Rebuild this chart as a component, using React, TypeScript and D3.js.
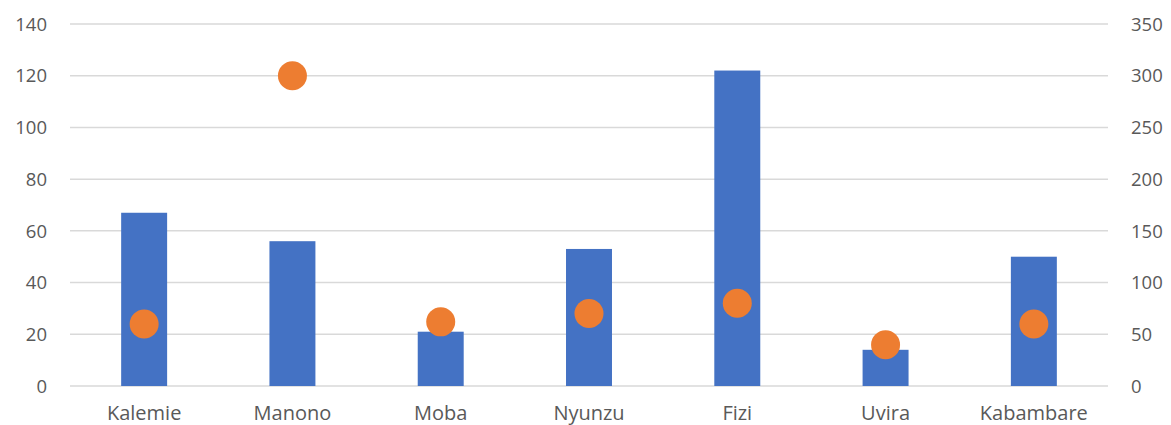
import React from "react";
import * as d3 from "d3";

const categories = ["Kalemie", "Manono", "Moba", "Nyunzu", "Fizi", "Uvira", "Kabambare"];
const barValues = [67, 56, 21, 53, 122, 14, 50];
const dotValues = [60, 300, 62, 70, 80, 40, 60];
const leftTicks = [0, 20, 40, 60, 80, 100, 120, 140];
const rightTicks = [0, 50, 100, 150, 200, 250, 300, 350];

const W = 1171;
const H = 425;
const left = 70;
const right = 1108;
const top = 24;
const bottom = 386;
const font = "Open Sans, sans-serif";

export default function App() {
  const x = d3.scaleBand<string>().domain(categories).range([left, right]).paddingInner(0.69).paddingOuter(0.345);
  const yL = d3.scaleLinear().domain([0, 140]).range([bottom, top]);
  const yR = d3.scaleLinear().domain([0, 350]).range([bottom, top]);
  return (
    <svg width={W} height={H} style={{ position: "absolute", left: 0, top: 0, background: "#fff" }}>
      {leftTicks.map((t) => (
        <line key={"g" + t} x1={left} x2={right} y1={yL(t)} y2={yL(t)} stroke="#d9d9d9" strokeWidth={1.5} />
      ))}
      {leftTicks.map((t) => (
        <text key={"l" + t} x={47} y={yL(t)} dy="0.36em" textAnchor="end" fontFamily={font} fontSize={18.5} fill="#595959">
          {t}
        </text>
      ))}
      {rightTicks.map((t) => (
        <text key={"r" + t} x={1131} y={yR(t)} dy="0.36em" textAnchor="start" fontFamily={font} fontSize={18.5} fill="#595959">
          {t}
        </text>
      ))}
      {categories.map((c, i) => (
        <rect key={"b" + c} x={x(c)} y={yL(barValues[i])} width={x.bandwidth()} height={bottom - yL(barValues[i])} fill="#4472c4" />
      ))}
      {categories.map((c, i) => (
        <circle key={"d" + c} cx={(x(c) as number) + x.bandwidth() / 2} cy={yR(dotValues[i])} r={14.5} fill="#ed7d31" />
      ))}
      {categories.map((c) => (
        <text key={"c" + c} x={(x(c) as number) + x.bandwidth() / 2} y={420} textAnchor="middle" fontFamily={font} fontSize={20} fill="#595959">
          {c}
        </text>
      ))}
    </svg>
  );
}
